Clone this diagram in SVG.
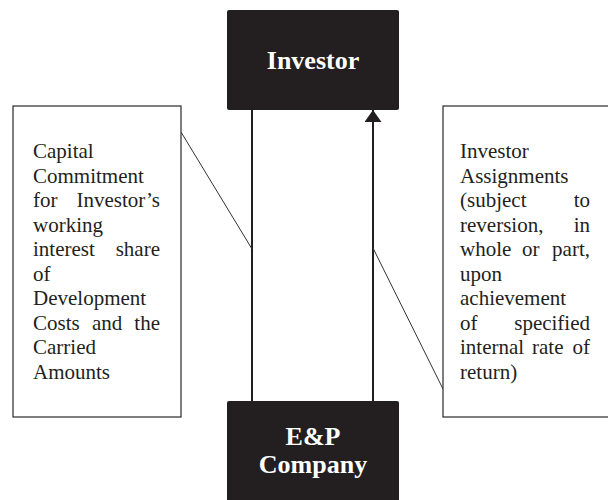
<svg xmlns="http://www.w3.org/2000/svg" width="608" height="500" viewBox="0 0 608 500">
<style>
.dark{fill:#231f20;}
.title{font-family:"Liberation Serif","Times New Roman",serif;font-weight:bold;font-size:26px;fill:#ffffff;text-anchor:middle;}
.note{fill:#ffffff;stroke:#2a2a2a;stroke-width:1.2;}
.txt{font-family:"Liberation Serif","Times New Roman",serif;font-size:21px;fill:#231f20;}
.end{text-anchor:end;}
.main{stroke:#231f20;stroke-width:2;fill:none;}
.thin{stroke:#333333;stroke-width:1;fill:none;}
</style>
<defs>
<marker id="arr" markerUnits="userSpaceOnUse" markerWidth="13" markerHeight="18" refX="12" refY="8.5" orient="auto">
<path d="M0,0 L12,8.5 L0,17 Z" fill="#231f20"/>
</marker>
</defs>
<rect width="608" height="500" fill="#ffffff"/>
<g id="connectors">
<line class="main" x1="252" y1="110" x2="252" y2="401"/>
<line class="main" x1="373" y1="401" x2="373" y2="110" marker-end="url(#arr)"/>
<line class="thin" x1="181" y1="132" x2="252" y2="249"/>
<line class="thin" x1="373" y1="248" x2="443" y2="389"/>
</g>
<g id="investor">
<rect class="dark" x="227" y="10" width="172" height="100" rx="2"/>
<text class="title" x="313" y="69">Investor</text>
</g>
<g id="ep-company">
<rect class="dark" x="227" y="401" width="172" height="110" rx="2"/>
<text class="title" x="313" y="445">E&amp;P</text>
<text class="title" x="313" y="473">Company</text>
</g>
<g id="capital-commitment">
<rect class="note" x="13" y="106" width="168" height="311"/>
<text class="txt" x="33" y="158">Capital</text>
<text class="txt" x="33" y="182.5">Commitment</text>
<text class="txt" x="33" y="207">for</text><text class="txt end" x="160" y="207">Investor’s</text>
<text class="txt" x="33" y="231.5">working</text>
<text class="txt" x="33" y="256">interest</text><text class="txt end" x="160" y="256">share</text>
<text class="txt" x="33" y="280.5">of</text>
<text class="txt" x="33" y="305">Development</text>
<text class="txt" x="33" y="329.5">Costs</text><text class="txt" x="92" y="329.5">and</text><text class="txt end" x="160" y="329.5">the</text>
<text class="txt" x="33" y="354">Carried</text>
<text class="txt" x="33" y="378.5">Amounts</text>
</g>
<g id="investor-assignments">
<rect class="note" x="443" y="106" width="170" height="311"/>
<text class="txt" x="460" y="158">Investor</text>
<text class="txt" x="460" y="182.5">Assignments</text>
<text class="txt" x="460" y="207">(subject</text><text class="txt end" x="590" y="207">to</text>
<text class="txt" x="460" y="231.5">reversion,</text><text class="txt end" x="590" y="231.5">in</text>
<text class="txt" x="460" y="256">whole</text><text class="txt" x="522" y="256">or</text><text class="txt end" x="590" y="256">part,</text>
<text class="txt" x="460" y="280.5">upon</text>
<text class="txt" x="460" y="305">achievement</text>
<text class="txt" x="460" y="329.5">of</text><text class="txt end" x="590" y="329.5">specified</text>
<text class="txt" x="460" y="354">internal</text><text class="txt" x="532" y="354">rate</text><text class="txt end" x="590" y="354">of</text>
<text class="txt" x="460" y="378.5">return)</text>
</g>
</svg>
